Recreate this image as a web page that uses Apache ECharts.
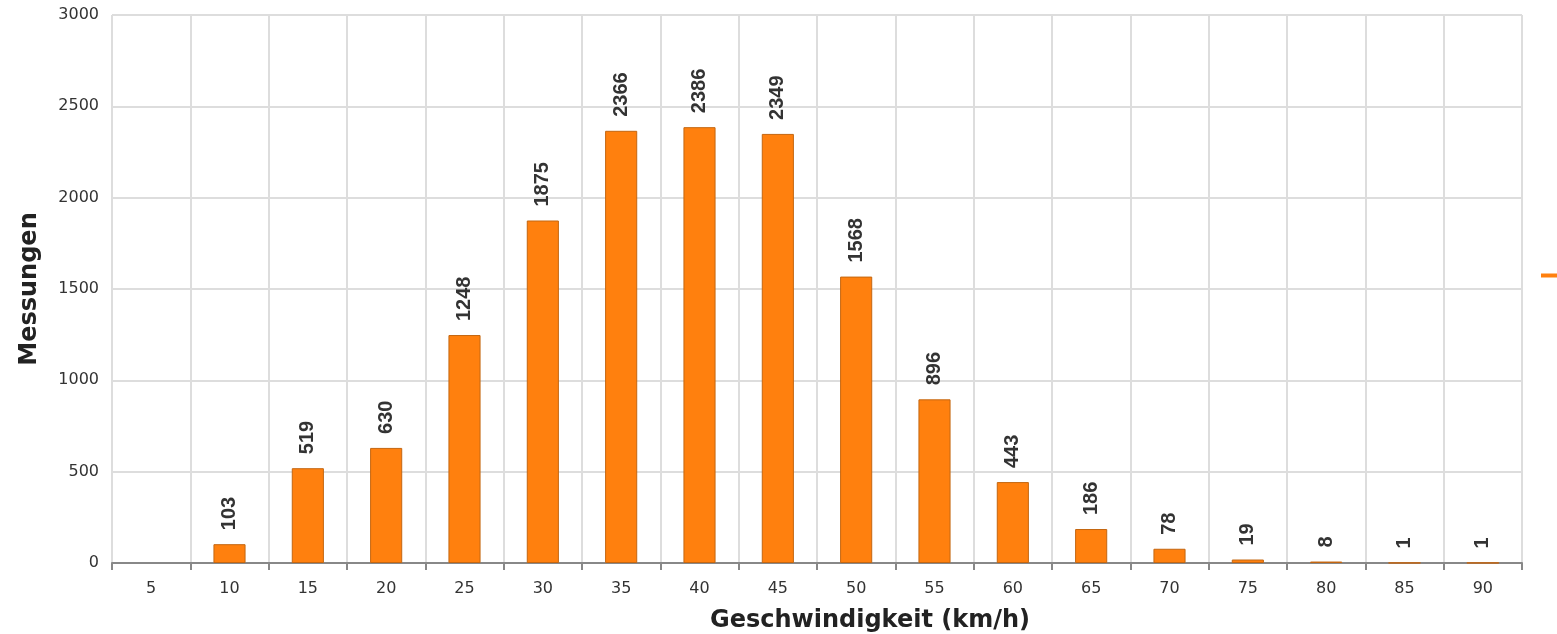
<!DOCTYPE html>
<html><head><meta charset="utf-8">
<script src="https://cdn.jsdelivr.net/npm/echarts@6/dist/echarts.min.js"></script>
<style>html,body{margin:0;padding:0;background:#fff}#c{width:1557px;height:634px}</style>
</head><body><div id="c"></div>
<script>
const categories = ['5','10','15','20','25','30','35','40','45','50','55','60','65','70','75','80','85','90'];
const values = [0,103,519,630,1248,1875,2366,2386,2349,1568,896,443,186,78,19,8,1,1];
const yTicks = {min:0, max:3000, interval:500};
const font = 'DejaVu Sans';
const chart = echarts.init(document.getElementById('c'));
chart.setOption({
  animation:false,
  textStyle:{fontFamily:font},
  legend:{left:1541, top:269, padding:0, itemWidth:18, itemHeight:4, icon:'rect', itemStyle:{borderWidth:0}, textStyle:{fontSize:13,color:'#333'}, data:['Messungen']},
  grid:{left:112, right:35, top:15, bottom:71, containLabel:false, outerBoundsMode:'none'},
  xAxis:{type:'category', data:categories, boundaryGap:true,
    name:'Geschwindigkeit (km/h)', nameLocation:'middle', nameGap:46,
    nameTextStyle:{fontFamily:font, fontWeight:'bold', fontSize:24, color:'#222', padding:[0,0,0,106]},
    axisLine:{lineStyle:{color:'#888', width:2}},
    axisTick:{show:true, alignWithLabel:false, length:7, lineStyle:{color:'#888', width:2}},
    axisLabel:{fontFamily:font, fontSize:16, color:'#333', margin:18},
    splitLine:{show:true, lineStyle:{color:'#ddd', width:2}}
  },
  yAxis:{type:'value', min:yTicks.min, max:yTicks.max, interval:yTicks.interval,
    name:'Messungen', nameLocation:'middle', nameGap:70,
    nameTextStyle:{fontFamily:font, fontWeight:'bold', fontSize:24, color:'#222'},
    axisLine:{show:false}, axisTick:{show:false},
    axisLabel:{fontFamily:font, fontSize:16, color:'#333', margin:13, formatter:v=>String(v)},
    splitLine:{lineStyle:{color:'#ddd', width:2}}
  },
  series:[{name:'Messungen', type:'bar', data:values.map(v=>v===0?null:v), barWidth:'41%',
    itemStyle:{color:'#ff800e', borderColor:'#c46610', borderWidth:1},
    label:{show:true, position:'top', rotate:90, align:'left', verticalAlign:'middle', distance:14,
      fontFamily:'Liberation Sans', fontWeight:'bold', fontSize:20, color:'#333'}
  }]
});
</script></body></html>
